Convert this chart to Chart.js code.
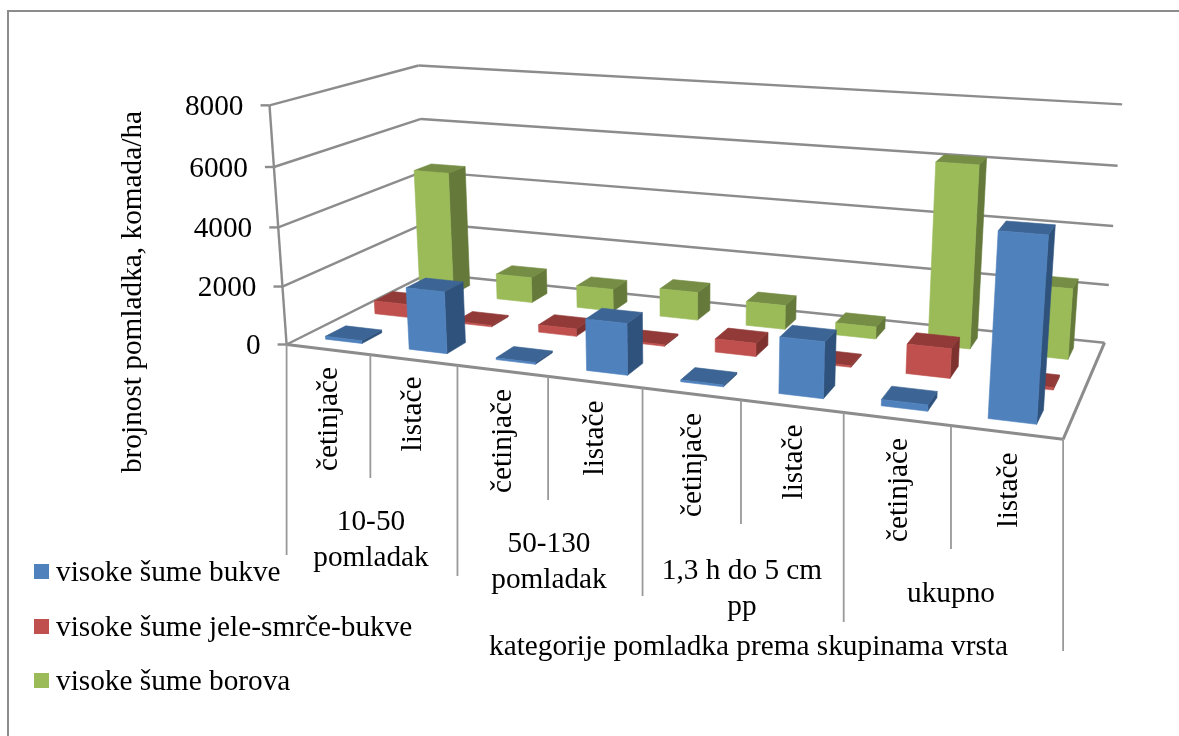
<!DOCTYPE html>
<html><head><meta charset="utf-8">
<style>html,body{margin:0;padding:0;background:#fff}#w{width:1179px;height:736px}</style>
<script src="https://cdn.jsdelivr.net/npm/chart.js@4"></script></head>
<body><div id="w"><canvas id="c" width="1179" height="736"></canvas></div>
<script>
const categories=['četinjače','listače','četinjače','listače','četinjače','listače','četinjače','listače'];
const seriesNames=['visoke šume bukve','visoke šume jele-smrče-bukve','visoke šume borova'];
const bukve=[100,2100,60,1700,60,1800,200,5620];
const jele=[470,50,260,50,450,50,970,80];
const borova=[4530,930,800,1000,850,420,6170,2370];
const yTicks=[0,2000,4000,6000,8000];
const groupLabels=[['10-50','pomladak'],['50-130','pomladak'],['1,3 h do 5 cm','pp'],['ukupno']];
const yTitle='brojnost pomladka, komada/ha';
const xTitle='kategorije pomladka prema skupinama vrsta';

const FONT='"Liberation Serif"';
const GRID='#8c8c8c';
const calib=[
[0,0,0,287,344],[0,0,.25,282,286],[0,0,.5,278,227],[0,0,.75,274,168],[0,0,1,270,106],
[0,1,1,418,64],[0,1,.75,421,118],[0,1,.5,424,172],[0,1,.25,426,225],[0,1,0,428,274],
[8,1,1,1122,105],[8,1,.75,1118,166],[8,1,.5,1113,226],[8,1,.25,1108,284],[8,1,0,1105,342],
[8,0,0,1063,440],[1,0,0,370,354],[2,0,0,457,365],[3,0,0,549,376],[4,0,0,641,388],[5,0,0,741,400],[6,0,0,845,413],[7,0,0,951,426]];
function solve(A,b){const n=b.length;for(let i=0;i<n;i++){let m=i;for(let r=i+1;r<n;r++)if(Math.abs(A[r][i])>Math.abs(A[m][i]))m=r;
 [A[i],A[m]]=[A[m],A[i]];[b[i],b[m]]=[b[m],b[i]];
 for(let r=i+1;r<n;r++){const f=A[r][i]/A[i][i];for(let c=i;c<n;c++)A[r][c]-=f*A[i][c];b[r]-=f*b[i];}}
 const x=Array(n).fill(0);for(let i=n-1;i>=0;i--){let s=b[i];for(let c=i+1;c<n;c++)s-=A[i][c]*x[c];x[i]=s/A[i][i];}return x;}
const P=(()=>{const A=Array.from({length:11},()=>Array(11).fill(0)),b=Array(11).fill(0);
 const add=(row,t)=>{for(let i=0;i<11;i++){for(let j=0;j<11;j++)A[i][j]+=row[i]*row[j];b[i]+=row[i]*t;}};
 calib.forEach(([u,v,w,x,y])=>{const U=u/8;
  add([U,v,w,1,0,0,0,0,-x*U,-x*v,-x*w],x);
  add([0,0,0,0,U,v,w,1,-y*U,-y*v,-y*w],y);});
 return solve(A,b);})();
function proj(u,v,w){const U=u/8,d=P[8]*U+P[9]*v+P[10]*w+1;
 return [(P[0]*U+P[1]*v+P[2]*w+P[3])/d,(P[4]*U+P[5]*v+P[6]*w+P[7])/d];}
function poly(ctx,pts,fill){ctx.beginPath();pts.forEach((p,i)=>i?ctx.lineTo(p[0],p[1]):ctx.moveTo(p[0],p[1]));ctx.closePath();ctx.fillStyle=fill;ctx.fill();ctx.strokeStyle=fill;ctx.lineWidth=.6;ctx.stroke();}
function line(ctx,a,b,col,lw){ctx.beginPath();ctx.moveTo(a[0],a[1]);ctx.lineTo(b[0],b[1]);ctx.strokeStyle=col||GRID;ctx.lineWidth=lw||2.4;ctx.stroke();}

const FACE=[{front:'#4F81BD',top:'#3C6494',side:'#2F527C'},{front:'#C0504D',top:'#923A38',side:'#7E3230'},{front:'#9BBB59',top:'#758D45',side:'#657A3A'}];
const BARW=.44,BARD=.4;

class Bar3D extends Chart.BarController{
 draw(){const ctx=this.chart.ctx,xs=this.chart.scales.x,ys=this.chart.scales.y,s=this.index,data=this.getDataset().data;
  const v0=(s+.5)/3-BARD/6,v1=(s+.5)/3+BARD/6,f=FACE[s];
  for(let i=data.length-1;i>=0;i--){
   const c=(xs.getPixelForValue(i)-xs.left)/xs.width*8,u0=c-BARW/2,u1=c+BARW/2;
   const w=(ys.bottom-ys.getPixelForValue(data[i]))/ys.height;
   const a=proj(u0,v0,0),b=proj(u1,v0,0),e=proj(u1,v0,w),g=proj(u0,v0,w),h=proj(u0,v1,w),k=proj(u1,v1,w),m=proj(u1,v1,0),n=proj(u0,v1,0);
   if(a[0]>n[0])poly(ctx,[a,g,h,n],f.side);
   if(b[0]<m[0])poly(ctx,[b,e,k,m],f.side);
   poly(ctx,[g,e,k,h],f.top);
   poly(ctx,[a,b,e,g],f.front);
  }}
}
Bar3D.id='bar3d';Bar3D.defaults=Chart.BarController.defaults;Chart.register(Bar3D);

const tickEnds=[555,478,576,500,596,524,622,549,651];
const catLabelPos=[[329,419],[413,414],[503,441],[595,438],[693,465],[794,462],[899,490],[1009,490]];
const groupPos=[[371,522],[549,544],[742,571],[951,594]];
const room={id:'room',
 beforeDatasetsDraw(ch){const ctx=ch.ctx,ys=ch.scales.y;ctx.save();
  ctx.strokeStyle='#8c8c8c';ctx.lineWidth=2;ctx.beginPath();ctx.moveTo(8,736);ctx.lineTo(8,11);ctx.lineTo(1179,11);ctx.stroke();
  ys.ticks.forEach(t=>{const w=(ys.bottom-ys.getPixelForValue(t.value))/ys.height;
   const a=proj(0,0,w),b=proj(0,1,w),c=proj(8,1,w);line(ctx,a,b);line(ctx,b,c);line(ctx,[a[0]-9,a[1]],a);});
  line(ctx,proj(0,0,0),proj(0,0,1));
  line(ctx,proj(0,0,0),proj(8,0,0),GRID,3);line(ctx,proj(8,0,0),proj(8,1,0),GRID,3);
  tickEnds.forEach((yEnd,i)=>{const p=proj(i,0,0);line(ctx,p,[p[0],yEnd],'#999',1.8);});
  ctx.restore();},
 afterDraw(ch){const ctx=ch.ctx,ys=ch.scales.y;ctx.save();ctx.fillStyle='#000';ctx.textBaseline='middle';
  ctx.font='29.3px '+FONT;ctx.textAlign='right';
  ys.ticks.forEach(t=>{const w=(ys.bottom-ys.getPixelForValue(t.value))/ys.height,a=proj(0,0,w);ctx.fillText(String(t.value),a[0]-26,a[1]+2);});
  ctx.textAlign='center';
  categories.forEach((t,i)=>{ctx.save();ctx.translate(catLabelPos[i][0],catLabelPos[i][1]);ctx.rotate(-Math.PI/2);ctx.fillText(t,0,0);ctx.restore();});
  groupLabels.forEach((g,i)=>g.forEach((t,j)=>ctx.fillText(t,groupPos[i][0],groupPos[i][1]+j*36)));
  ctx.fillText(xTitle,748.5,647);
  ctx.save();ctx.translate(133,292);ctx.rotate(-Math.PI/2);ctx.fillText(yTitle,0,0);ctx.restore();
  const ly=[572,627,681];
  ch.data.datasets.forEach((d,i)=>{ctx.fillStyle=d.backgroundColor;ctx.fillRect(34,ly[i]-8,15,15);ctx.fillStyle='#000';ctx.textAlign='left';ctx.fillText(d.label,56,ly[i]+1);});
  ctx.restore();}
};
new Chart(document.getElementById('c'),{type:'bar3d',
 data:{labels:categories,datasets:[
  {label:seriesNames[0],data:bukve,backgroundColor:FACE[0].front},
  {label:seriesNames[1],data:jele,backgroundColor:FACE[1].front},
  {label:seriesNames[2],data:borova,backgroundColor:FACE[2].front}]},
 options:{responsive:false,animation:false,
  layout:{padding:{left:280,top:60,right:60,bottom:280}},
  plugins:{legend:{display:false},tooltip:{enabled:false},title:{display:false}},
  scales:{x:{display:false,type:'category',grid:{display:false}},
   y:{display:false,min:0,max:8000,afterBuildTicks(a){a.ticks=yTicks.map(v=>({value:v}));}}}},
 plugins:[room]});
</script></body></html>
